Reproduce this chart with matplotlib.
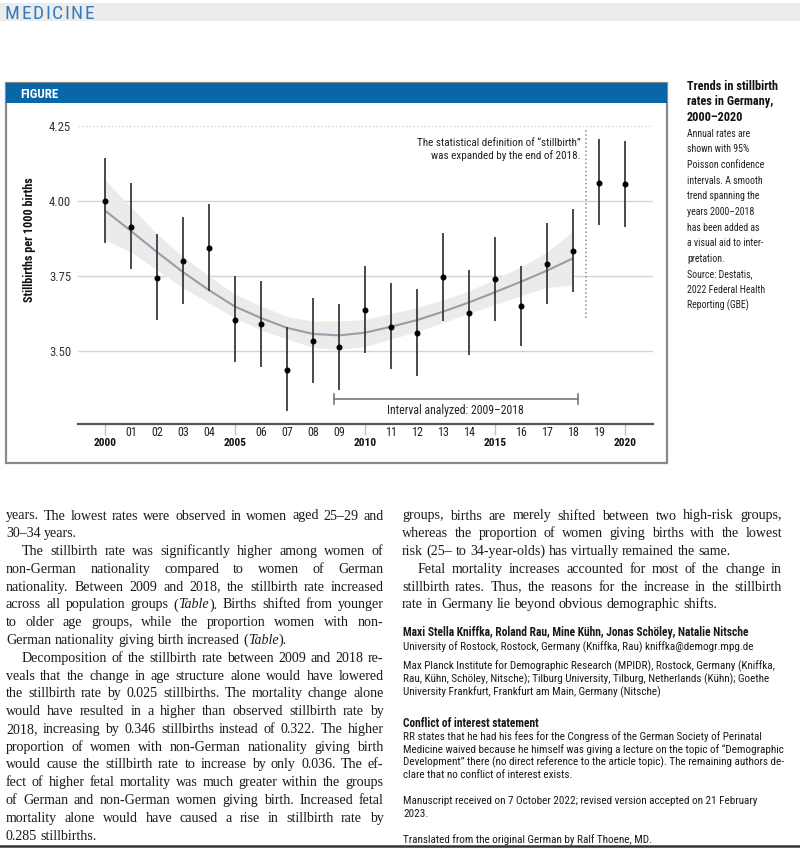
import numpy as np
import matplotlib
matplotlib.use("Agg")
import matplotlib.pyplot as plt
from matplotlib import font_manager
from matplotlib.patches import Rectangle
from matplotlib.lines import Line2D
from matplotlib.transforms import blended_transform_factory

# ---- data -------------------------------------------------------------
years = np.arange(2000, 2021)
rate = [4.00, 3.914, 3.744, 3.799, 3.842, 3.604, 3.59, 3.438, 3.533, 3.512,
        3.637, 3.581, 3.56, 3.747, 3.628, 3.739, 3.65, 3.791, 3.832, 4.061, 4.057]
ci_low = [3.859, 3.773, 3.603, 3.657, 3.70, 3.464, 3.447, 3.30, 3.394, 3.37,
          3.492, 3.439, 3.417, 3.601, 3.487, 3.60, 3.517, 3.657, 3.697, 3.92, 3.914]
ci_high = [4.144, 4.061, 3.889, 3.946, 3.989, 3.751, 3.734, 3.58, 3.676, 3.657,
           3.783, 3.728, 3.706, 3.894, 3.77, 3.881, 3.783, 3.928, 3.972, 4.206, 4.201]

trend_years = np.arange(2000, 2019)
trend = [3.968, 3.90, 3.83, 3.763, 3.703, 3.648, 3.61, 3.577, 3.557, 3.552,
         3.561, 3.581, 3.603, 3.631, 3.662, 3.696, 3.731, 3.768, 3.809]
band_low = [3.87, 3.83, 3.77, 3.71, 3.66, 3.61, 3.57, 3.54, 3.512, 3.505,
            3.515, 3.54, 3.565, 3.595, 3.625, 3.655, 3.685, 3.712, 3.72]
band_high = [4.07, 3.98, 3.89, 3.815, 3.75, 3.69, 3.65, 3.615, 3.60, 3.60,
             3.605, 3.625, 3.645, 3.67, 3.70, 3.74, 3.78, 3.83, 3.90]

yticks = [3.50, 3.75, 4.00, 4.25]
caption_bold = ["Trends in stillbirth", "rates in Germany,", "2000\u20132020"]
caption_text = ["Annual rates are", "shown with 95%", "Poisson confidence",
                "intervals. A smooth", "trend spanning the", "years 2000\u20132018",
                "has been added as", "a visual aid to inter-", "pretation.",
                "Source: Destatis,", "2022 Federal Health", "Reporting (GBE)"]

# body text: (line, justified, indent)
left_col = [
    ("years. The lowest rates were observed in women aged 25\u201329 and", True, False),
    ("30\u201334 years.", False, False),
    ("The stillbirth rate was significantly higher among women of", True, True),
    ("non-German nationality compared to women of German", True, False),
    ("nationality. Between 2009 and 2018, the stillbirth rate increased", True, False),
    ("across all population groups (/Table/). Births shifted from younger", True, False),
    ("to older age groups, while the proportion women with non-", True, False),
    ("German nationality giving birth increased (/Table/).", False, False),
    ("Decomposition of the stillbirth rate between 2009 and 2018 re-", True, True),
    ("veals that the change in age structure alone would have lowered", True, False),
    ("the stillbirth rate by 0.025 stillbirths. The mortality change alone", True, False),
    ("would have resulted in a higher than observed stillbirth rate by", True, False),
    ("2018, increasing by 0.346 stillbirths instead of 0.322. The higher", True, False),
    ("proportion of women with non-German nationality giving birth", True, False),
    ("would cause the stillbirth rate to increase by only 0.036. The ef-", True, False),
    ("fect of higher fetal mortality was much greater within the groups", True, False),
    ("of German and non-German women giving birth. Increased fetal", True, False),
    ("mortality alone would have caused a rise in stillbirth rate by", True, False),
    ("0.285 stillbirths.", False, False),
]
right_col = [
    ("groups, births are merely shifted between two high-risk groups,", True, False),
    ("whereas the proportion of women giving births with the lowest", True, False),
    ("risk (25\u2013 to 34-year-olds) has virtually remained the same.", False, False),
    ("Fetal mortality increases accounted for most of the change in", True, True),
    ("stillbirth rates. Thus, the reasons for the increase in the stillbirth", True, False),
    ("rate in Germany lie beyond obvious demographic shifts.", False, False),
]
# sans block: (text, bold, baseline y in px)
author_block = [
    ("Maxi Stella Kniffka, Roland Rau, Mine K\u00fchn, Jonas Sch\u00f6ley, Natalie Nitsche", True, 636),
    ("University of Rostock, Rostock, Germany (Kniffka, Rau) kniffka@demogr.mpg.de", False, 650),
    ("Max Planck Institute for Demographic Research (MPIDR), Rostock, Germany (Kniffka,", False, 669),
    ("Rau, K\u00fchn, Sch\u00f6ley, Nitsche); Tilburg University, Tilburg, Netherlands (K\u00fchn); Goethe", False, 682),
    ("University Frankfurt, Frankfurt am Main, Germany (Nitsche)", False, 695),
    ("Conflict of interest statement", True, 727),
    ("RR states that he had his fees for the Congress of the German Society of Perinatal", False, 740),
    ("Medicine waived because he himself was giving a lecture on the topic of \u201cDemographic", False, 753),
    ("Development\u201d there (no direct reference to the article topic). The remaining authors de-", False, 765),
    ("clare that no conflict of interest exists.", False, 778),
    ("Manuscript received on 7 October 2022; revised version accepted on 21 February", False, 804),
    ("2023.", False, 817),
    ("Translated from the original German by Ralf Thoene, MD.", False, 843),
]

# ---- fonts ------------------------------------------------------------
names = {f.name for f in font_manager.fontManager.ttflist}
SANS = ["Liberation Sans", "DejaVu Sans"]
for cand in ["Liberation Sans Narrow", "Arial Narrow", "Roboto Condensed",
             "Open Sans Condensed", "Noto Sans Condensed"]:
    if cand in names:
        SANS = [cand, "DejaVu Sans"]
        break
SERIF = ["Liberation Serif", "DejaVu Serif"]

W, H = 800, 848
fig = plt.figure(figsize=(W / 100, H / 100), dpi=100)
renderer = fig.canvas.get_renderer()


def fx(x):
    return x / W


def fy(y):
    return 1 - y / H


def width_of(t):
    return t.get_window_extent(renderer).width


def fit_size(text, target, weight="normal", family=SANS):
    # font size that makes `text` about `target` pixels wide
    t = fig.text(0, 0, text, fontsize=10, weight=weight, family=family)
    w = width_of(t)
    t.remove()
    return 10 * target / w


def draw_line(line, x0, x1, y, justify, size, family, color="#1a1a1a"):
    words = line.split(" ")
    pieces = []
    for w in words:
        arts = []
        for k, seg in enumerate(w.split("/")):
            if not seg:
                continue
            t = fig.text(0, fy(y), seg, fontsize=size, family=family,
                         style="italic" if k % 2 else "normal",
                         va="baseline", ha="left", color=color)
            arts.append(t)
        pieces.append(arts)
    wws = [[width_of(a) for a in arts] for arts in pieces]
    total = sum(sum(ws) for ws in wws)
    if justify and len(words) > 1:
        gap = (x1 - x0 - total) / (len(words) - 1)
    else:
        t1 = fig.text(0, 0, "x x", fontsize=size, family=family)
        t2 = fig.text(0, 0, "xx", fontsize=size, family=family)
        gap = width_of(t1) - width_of(t2)
        t1.remove()
        t2.remove()
    xpos = x0
    for arts, ws in zip(pieces, wws):
        for a, wd in zip(arts, ws):
            a.set_x(fx(xpos))
            xpos += wd
        xpos += gap


# ---- page furniture ---------------------------------------------------
fig.add_artist(Rectangle((0, fy(21)), 1, (21 - 3) / H, transform=fig.transFigure,
                         color="#ececec", lw=0))
letters = []
for ch in "MEDICINE":
    letters.append(fig.text(0, fy(19), ch, fontsize=14, family=SANS,
                            color="#2f7bbf", va="baseline"))
lw_sum = sum(width_of(t) for t in letters)
track = max((87 - lw_sum) / 7, 1.5)
xpos = 5
for t in letters:
    t.set_x(fx(xpos))
    xpos += width_of(t) + track

# figure box and header
fig.add_artist(Rectangle((fx(6), fy(463)), (667 - 6) / W, (463 - 83) / H,
                         transform=fig.transFigure, fill=False, ec="#8a8a8a", lw=1.6))
fig.add_artist(Rectangle((fx(6), fy(103)), (667 - 6) / W, (103 - 83) / H,
                         transform=fig.transFigure, color="#0866a9", lw=0))
fig.text(fx(20), fy(97.5), "FIGURE", fontsize=fit_size("FIGURE", 38, "bold"),
         weight="bold", color="white", family=SANS, va="baseline")

fig.add_artist(Line2D([0, 1], [fy(845.5), fy(845.5)], transform=fig.transFigure,
                      color="#333333", lw=1.8))

# ---- chart ------------------------------------------------------------
ax = fig.add_axes([fx(78), fy(424), (652.7 - 78) / W, 300 / H])
ax.set_xlim(2000 + (78 - 105) / 26, 2000 + (652.7 - 105) / 26)
ax.set_ylim(3.5 - 73 / 300, 3.5 + 227 / 300)

for v in yticks:
    ax.axhline(v, color="#d4d4d4", lw=1.0, ls=":" if v == 4.25 else "-", zorder=0)

ax.fill_between(trend_years, band_low, band_high, color="#ebebeb", lw=0, zorder=1)
ax.plot(trend_years, trend, color="#9b9bab", lw=1.5, zorder=2)

rate_a = np.array(rate)
ax.errorbar(years, rate_a, yerr=[rate_a - np.array(ci_low), np.array(ci_high) - rate_a],
            fmt="o", ms=3.3, color="black", ecolor="#3a3a3a", elinewidth=1.3,
            capsize=0, zorder=3)

ax.plot([2018.5, 2018.5], [3.61, 4.24], ls=":", color="#8a8a8a", lw=1.1)
note = "The statistical definition of \u201cstillbirth\u201d"
ax.text(2018.3, 4.172, note + "\nwas expanded by the end of 2018.",
        ha="right", va="center", fontsize=fit_size(note, 163), family=SANS,
        color="#222222", linespacing=1.15)

# interval bracket
b0, b1, by = 2008.81, 2018.18, 3.34
ax.plot([b0, b1], [by, by], color="#777777", lw=1.2)
ax.plot([b0, b0], [by - 0.017, by + 0.017], color="#777777", lw=1.2)
ax.plot([b1, b1], [by - 0.017, by + 0.017], color="#777777", lw=1.2)
interval = "Interval analyzed: 2009\u20132018"
ax.text((b0 + b1) / 2, 3.303, interval, ha="center", va="center",
        fontsize=fit_size(interval, 135), family=SANS, color="#222222")

for s in ["top", "right", "left"]:
    ax.spines[s].set_visible(False)
ax.spines["bottom"].set_color("#555555")
ax.spines["bottom"].set_linewidth(1.6)

tick_size = fit_size("4.25", 22)
ax.set_yticks(yticks)
ax.set_yticklabels([f"{v:.2f}" for v in yticks], family=SANS,
                   fontsize=tick_size, color="#333333")
ax.tick_params(axis="y", length=0, pad=5)
ax.set_xticks([2000, 2005, 2010, 2015, 2020])
ax.tick_params(axis="x", length=8, color="#c0c0c0", width=1, labelbottom=False)

trans = blended_transform_factory(ax.transData, ax.transAxes)
year_size = fit_size("01", 11.7)
bold_size = fit_size("2000", 23, "bold")
for yr in years:
    if yr % 5 == 0:
        ax.text(yr, -0.064, str(yr), transform=trans, ha="center", va="center",
                fontsize=bold_size, weight="bold", family=SANS, color="#111111")
    else:
        ax.text(yr, -0.03, f"{yr % 100:02d}", transform=trans, ha="center",
                va="center", fontsize=year_size, family=SANS, color="#222222")

ylab = "Stillbirths per 1000 births"
fig.text(fx(30), fy(240), ylab, rotation=90, ha="center", va="center",
         fontsize=fit_size(ylab, 125, "bold"), weight="bold", family=SANS,
         color="#111111")

# ---- caption ----------------------------------------------------------
cap_size = fit_size("Poisson confidence", 77)
cap_bold = fit_size("Trends in stillbirth", 91, "bold")
for i, line in enumerate(caption_bold):
    fig.text(fx(687), fy(89.5 + i * 15.67), line, fontsize=cap_bold, weight="bold",
             family=SANS, color="#111111", va="baseline")
for i, line in enumerate(caption_text):
    fig.text(fx(687), fy(89.5 + (i + 3) * 15.67), line, fontsize=cap_size,
             family=SANS, color="#222222", va="baseline")

# ---- body text --------------------------------------------------------
for i, (line, just, indent) in enumerate(left_col):
    draw_line(line, 6 + (16 if indent else 0), 383.5, 519.5 + i * 17.78, just, 10.1, SERIF)
for i, (line, just, indent) in enumerate(right_col):
    draw_line(line, 402 + (16 if indent else 0), 782, 519.5 + i * 17.78, just, 10.1, SERIF)

block_size = fit_size(author_block[1][0], 347)
block_bold = fit_size(author_block[0][0], 348, "bold")
for line, bold, yb in author_block:
    fig.text(fx(403), fy(yb), line, fontsize=block_bold if bold else block_size,
             weight="bold" if bold else "normal", family=SANS,
             color="#1a1a1a", va="baseline")

fig.savefig("out.png", dpi=100)
